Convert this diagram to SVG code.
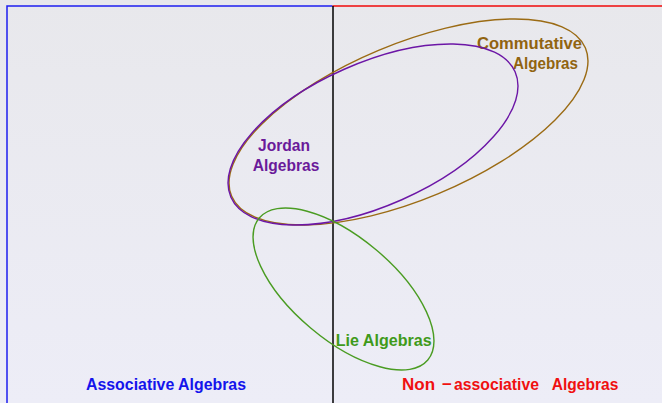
<svg xmlns="http://www.w3.org/2000/svg" width="662" height="403" viewBox="0 0 662 403">
  <defs>
    <linearGradient id="bg" x1="0" y1="0" x2="0" y2="1">
      <stop offset="0" stop-color="#e8e8ec"/>
      <stop offset="1" stop-color="#ededf7"/>
    </linearGradient>
  </defs>
  <style>
    .lbl { font-family: "Liberation Sans", Arial, sans-serif; font-weight: bold; font-size: 17px; }
    .ell { fill: none; stroke-width: 1.4; }
    .border { fill: none; stroke-width: 1.5; }
  </style>
  <rect x="0" y="0" width="662" height="403" fill="url(#bg)"/>

  <g id="connectors">
    <path class="border" d="M7,403 V6 H332.5" stroke="#1e1ef0"/>
    <path class="border" d="M332.5,6 H662" stroke="#f00a0a"/>
    <path class="border" d="M333,6 V403" stroke="#000000" stroke-width="1.3"/>
  </g>

  <g id="associative">
    <text class="lbl" x="86" y="389.5" fill="#1414ec" textLength="160" lengthAdjust="spacingAndGlyphs">Associative Algebras</text>
  </g>

  <g id="nonassociative" fill="#f01010">
    <text class="lbl" x="402" y="389.5">Non</text>
    <text class="lbl" x="442" y="389.5">−</text>
    <text class="lbl" x="454" y="389.5" textLength="85" lengthAdjust="spacingAndGlyphs">associative</text>
    <text class="lbl" x="551.7" y="389.5" textLength="66.6" lengthAdjust="spacingAndGlyphs">Algebras</text>
  </g>

  <g id="commutative">
    <ellipse class="ell" cx="408.5" cy="122" rx="191.8" ry="77.7" transform="rotate(-22.7 408.5 122)" stroke="#9b6b14"/>
    <text class="lbl" x="477" y="49" fill="#916410" textLength="105" lengthAdjust="spacingAndGlyphs">Commutative</text>
    <text class="lbl" x="513" y="68.5" fill="#916410" textLength="65" lengthAdjust="spacingAndGlyphs">Algebras</text>
  </g>

  <g id="jordan">
    <ellipse class="ell" cx="373" cy="134.5" rx="155.3" ry="71.3" transform="rotate(-23.8 373 134.5)" stroke="#6c16a6"/>
    <text class="lbl" x="258" y="151" fill="#6a1a9a" textLength="52" lengthAdjust="spacingAndGlyphs">Jordan</text>
    <text class="lbl" x="252.7" y="170.5" fill="#6a1a9a" textLength="66.6" lengthAdjust="spacingAndGlyphs">Algebras</text>
  </g>

  <g id="lie">
    <ellipse class="ell" cx="343.5" cy="289" rx="110.2" ry="51" transform="rotate(40.1 343.5 289)" stroke="#4a9c22"/>
    <text class="lbl" x="335.7" y="346" fill="#3f9a1a" textLength="96" lengthAdjust="spacingAndGlyphs">Lie Algebras</text>
  </g>
</svg>
